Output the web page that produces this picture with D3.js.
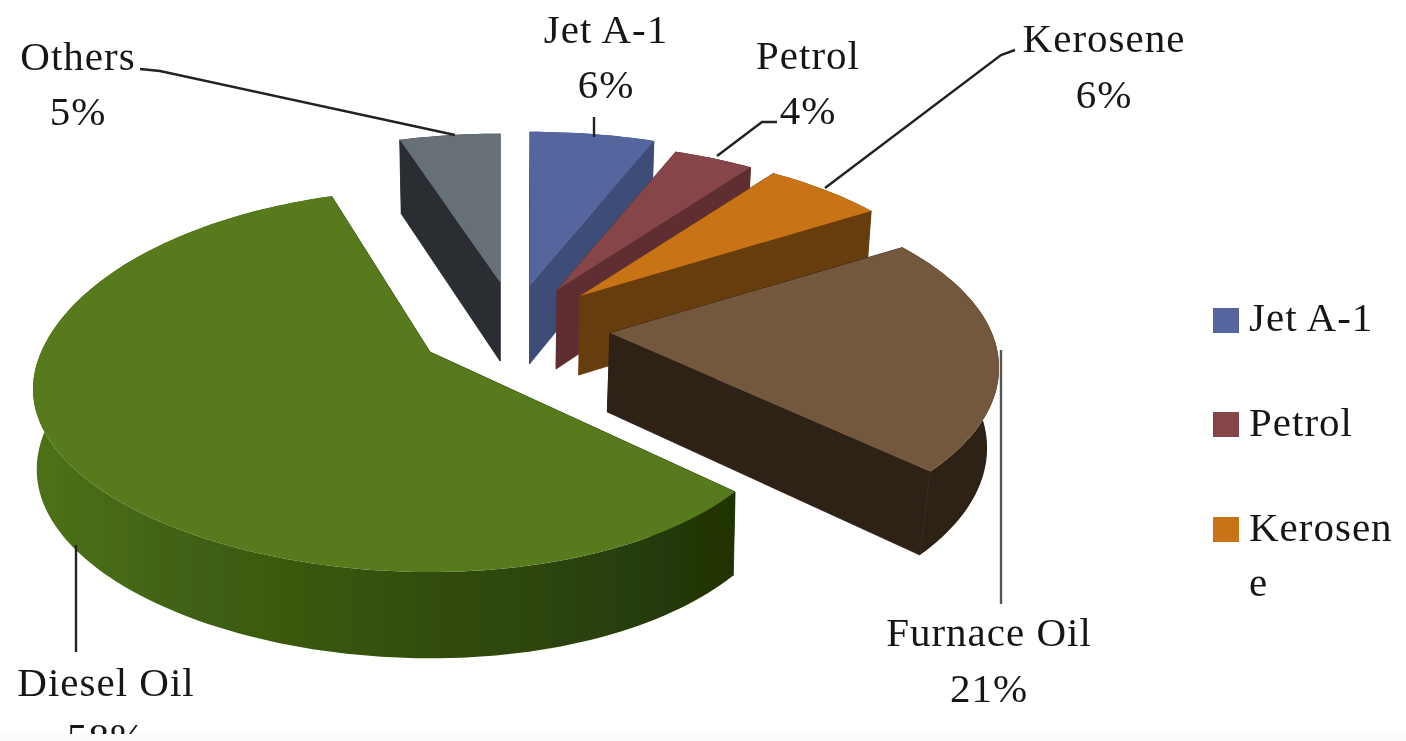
<!DOCTYPE html>
<html><head><meta charset="utf-8">
<script src="https://cdn.jsdelivr.net/npm/d3@7"></script>
<style>html,body{margin:0;padding:0;background:#fff;overflow:hidden}svg{display:block}</style>
</head><body><svg id="c" width="1406" height="741"></svg>
<script>
const categories = ["Jet A-1","Petrol","Kerosene","Furnace Oil","Diesel Oil","Others"];
const shares = [6,4,6,21,58,5];
const legendCategories = ["Jet A-1","Petrol","Kerosene"];
const topColors = ["#54669f","#864548","#c77319","#73583c","#567a1a","#677077"];
const wallColors = ["#3d4d78","#5e2f31","#683c0e","#2e2015","#2c420b","#292d30"];
// per-slice apex on the screen after explosion, radial scale and bottom-edge convergence
const apexX = [530,557,580,610,430,500];
const apexY = [285,290,296,333,352,282];
const radial = [1.05,1,1,1.005,1.04,1.01];
const converge = [0.985,0.985,0.985,0.976,0.992,0.985];
const A=380,B=175,P=0.19,DEPTH=79,VX=500;

const svg=d3.select("#c"), defs=svg.append("defs");
defs.append("filter").attr("id","soft").attr("x","-5%").attr("y","-5%").attr("width","110%").attr("height","110%")
  .append("feGaussianBlur").attr("stdDeviation",0.7);
const grad=defs.append("linearGradient").attr("id","dieselWall").attr("gradientUnits","userSpaceOnUse")
  .attr("x1",33).attr("x2",737).attr("y1",0).attr("y2",0);
[[0,"#4d7119"],[0.25,"#3f5f12"],[0.5,"#35510e"],[0.8,"#2a4009"],[1,"#1f3305"]].forEach(s=>grad.append("stop").attr("offset",s[0]).attr("stop-color",s[1]));

const root=svg.append("g").attr("filter","url(#soft)");
const arcs=d3.pie().sort(null)(shares);

function proj(i,theta,r){
  const u=r*Math.sin(theta), v=-r*Math.cos(theta), w=1/(1-P*v);
  let dx=A*u*w, dy=B*v*w;
  if(i===4){ // the large slice sits off-axis in the view, so its rim is slightly warped
    const x0=dx,y0=dy;
    dx=x0*(0.947-0.0375*x0/400);
    dy=y0*(1.02-0.05*Math.tanh(y0/60));
  }
  return [apexX[i]+dx, apexY[i]+dy, w];
}
function lower(i,p){
  return [VX+(p[0]-VX)*converge[i], p[1]+DEPTH*Math.pow(p[2],0.4)];
}
const line=d3.line();
const order=[5,0,1,2,3,4];
order.forEach(i=>{
  const a=arcs[i], r=radial[i];
  const n=Math.max(8,Math.ceil((a.endAngle-a.startAngle)*40));
  const rim=d3.range(n+1).map(k=>proj(i,a.startAngle+(a.endAngle-a.startAngle)*k/n,r));
  const apex=proj(i,0,0);
  const g=root.append("g");
  const wallFill=i===4?"url(#dieselWall)":wallColors[i];
  const low=p=>lower(i,p);
  [rim[0],rim[n]].forEach(e=>{
    const edge=i===4?"#1f3305":wallColors[i];
    g.append("path").attr("d",line([apex,e,low(e),low(apex)].map(p=>[p[0],p[1]]))+"Z")
     .attr("fill",edge).attr("stroke",edge).attr("stroke-width",0.8);
  });
  g.append("path").attr("d",line(rim.map(p=>[p[0],p[1]]).concat(rim.slice().reverse().map(low)))+"Z")
    .attr("fill",wallFill);
  g.append("path").attr("d",line([[apex[0],apex[1]]].concat(rim.map(p=>[p[0],p[1]])))+"Z")
    .attr("fill",topColors[i]);
});

const FS=41, TXT="#161616";
const font="'Liberation Serif',serif";
function label(x,y,t,anchor){
  return root.append("text").attr("x",x).attr("y",y).attr("text-anchor",anchor||"middle")
    .attr("font-family",font).attr("font-size",FS).attr("fill",TXT).attr("letter-spacing",1).text(t);
}
const labelX=[606,808,1104,989,106,78];
const nameY=[43,69,52,646,696,70];
const pctY=[98,124,108,702,751,125];
categories.forEach((c,i)=>{
  label(labelX[i],nameY[i],c);
  label(labelX[i],pctY[i],shares[i]+"%");
});
const leaders=[
 {pts:[[594,117],[594,137]],c:"#222"},
 {pts:[[777,122],[762,122],[717,156]],c:"#222"},
 {pts:[[1015,50],[1001,55],[825,188]],c:"#222"},
 {pts:[[1001,350],[1001,604]],c:"#555"},
 {pts:[[76,545],[76,652]],c:"#222"},
 {pts:[[140,69],[160,71],[455,135]],c:"#222"}
];
leaders.forEach(l=>root.append("path").attr("d",line(l.pts)).attr("fill","none").attr("stroke",l.c).attr("stroke-width",2.4));

const legendY=[320,424,529];
const legendTextY=[331,436,541];
legendCategories.forEach((c,i)=>{
  root.append("rect").attr("x",1213).attr("y",legendY[i]-12).attr("width",26).attr("height",25).attr("fill",topColors[i]);
  if(c==="Kerosene"){
    label(1249,legendTextY[i],"Kerosen","start");
    label(1249,596,"e","start");
  } else label(1249,legendTextY[i],c,"start");
});
svg.append("rect").attr("x",0).attr("y",734).attr("width",1406).attr("height",7).attr("fill","#fbfbfb");
</script></body></html>
